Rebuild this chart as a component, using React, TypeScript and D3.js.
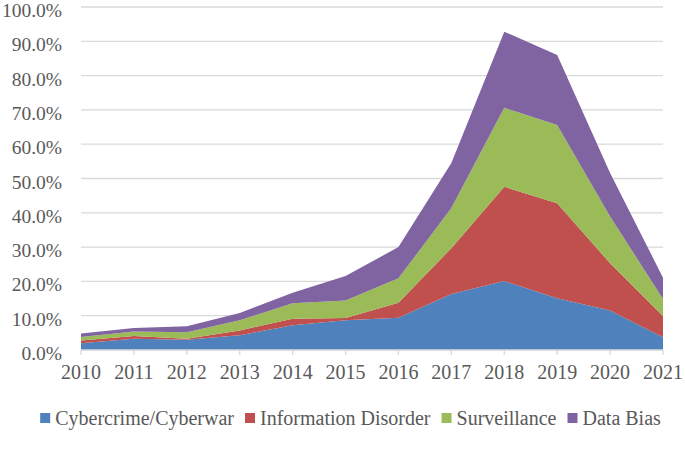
import React, { useEffect, useRef } from "react";
import * as d3 from "d3";

const years = ["2010","2011","2012","2013","2014","2015","2016","2017","2018","2019","2020","2021"];
const seriesNames = ["Cybercrime/Cyberwar", "Information Disorder", "Surveillance", "Data Bias"];
const cybercrime = [2.0, 3.3, 3.0, 4.3, 7.2, 8.7, 9.4, 16.3, 20.1, 15.1, 11.5, 3.7];
const infoDisorder = [0.8, 0.8, 0.3, 1.4, 1.9, 0.6, 4.4, 13.4, 27.5, 27.7, 13.8, 6.2];
const surveillance = [1.0, 1.3, 1.9, 3.0, 4.5, 5.1, 7.1, 11.7, 23.0, 22.8, 13.6, 5.0];
const dataBias = [1.0, 1.0, 1.7, 2.1, 3.1, 7.2, 9.1, 13.1, 22.2, 20.4, 12.7, 6.2];
const yTicks = [0, 10, 20, 30, 40, 50, 60, 70, 80, 90, 100];
const colors = ["#4f81bd", "#c0504d", "#9bbb59", "#8064a2"];

const W = 685, H = 470;
const FONT = "'Liberation Serif', 'Times New Roman', serif";
const TXT = "#595959";

export default function App() {
  const ref = useRef<SVGSVGElement>(null);
  useEffect(() => {
    const svg = d3.select(ref.current);
    svg.selectAll("*").remove();
    const left = 81, right = 663, top = 7, bottom = 350;
    const x = d3.scalePoint<string>().domain(years).range([left, right]);
    const y = d3.scaleLinear().domain([0, 100]).range([bottom, top]);

    const table = years.map((yr, i) => ({
      year: yr,
      s0: cybercrime[i], s1: infoDisorder[i], s2: surveillance[i], s3: dataBias[i],
    }));
    const stack = d3.stack<any>().keys(["s0", "s1", "s2", "s3"]);
    const layers = stack(table);

    // gridlines
    svg.append("g").selectAll("line").data(yTicks.filter(t => t > 0)).join("line")
      .attr("x1", left).attr("x2", right)
      .attr("y1", d => y(d)).attr("y2", d => y(d))
      .attr("stroke", "#d9d9d9").attr("stroke-width", 1.3);

    const area = d3.area<any>()
      .x((d: any) => x(d.data.year)!)
      .y0((d: any) => y(d[0]))
      .y1((d: any) => y(d[1]));
    svg.append("g").selectAll("path").data(layers).join("path")
      .attr("d", (d: any) => area(d)!)
      .attr("fill", (_d, i) => colors[i]);

    // y labels
    svg.append("g").selectAll("text").data(yTicks).join("text")
      .attr("x", 62).attr("y", d => y(d) + 10)
      .attr("text-anchor", "end")
      .attr("font-family", FONT).attr("font-size", 19.5).attr("fill", TXT)
      .text(d => d.toFixed(1) + "%");

    // x axis
    svg.append("line").attr("x1", left).attr("x2", right).attr("y1", bottom).attr("y2", bottom)
      .attr("stroke", "#d9d9d9").attr("stroke-width", 1.3);
    svg.append("g").selectAll("line").data(years).join("line")
      .attr("x1", d => x(d)!).attr("x2", d => x(d)!)
      .attr("y1", bottom).attr("y2", bottom + 5)
      .attr("stroke", "#d9d9d9").attr("stroke-width", 1.3);
    svg.append("g").selectAll("text").data(years).join("text")
      .attr("x", d => x(d)!).attr("y", 379)
      .attr("text-anchor", "middle")
      .attr("font-family", FONT).attr("font-size", 20).attr("fill", TXT)
      .text(d => d);

    // legend
    const lg = svg.append("g");
    const items = seriesNames.map((name, i) => {
      const g = lg.append("g");
      g.append("rect").attr("x", 0).attr("y", -5).attr("width", 10).attr("height", 10).attr("fill", colors[i]);
      const t = g.append("text").attr("x", 15).attr("y", 0).attr("dy", "0.35em")
        .attr("font-family", FONT).attr("font-size", 20).attr("fill", TXT).text(name);
      const w = (t.node() as SVGTextElement).getComputedTextLength();
      return { g, w: 15 + w };
    });
    const gap = 11;
    const total = d3.sum(items, d => d.w) + gap * (items.length - 1);
    let cx = 350.5 - total / 2;
    items.forEach(it => {
      it.g.attr("transform", `translate(${cx},418)`);
      cx += it.w + gap;
    });
  }, []);
  return <svg ref={ref} width={W} height={H} style={{ display: "block", position: "absolute", left: 0, top: 0, background: "#fff" }} />;
}
